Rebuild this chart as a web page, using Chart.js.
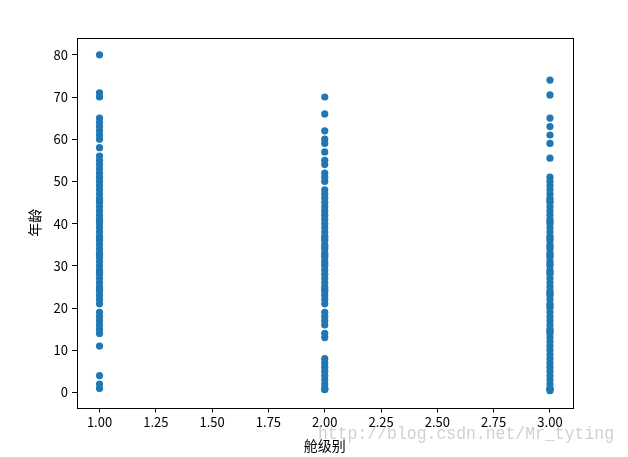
<!DOCTYPE html>
<html>
<head>
<meta charset="utf-8">
<script src="https://cdn.jsdelivr.net/npm/chart.js@4/dist/chart.umd.min.js"></script>
<style>
html,body{margin:0;padding:0;background:#fff;}
#wrap{width:628px;height:457px;position:relative;}
</style>
</head>
<body>
<div id="wrap"><canvas id="c"></canvas></div>
<script>
// ---- data ----
const class1Ages = [0.92, 2, 4, 11, 14, 15, 16, 17, 18, 19, 21, 22, 23, 24, 24.5, 25, 26, 27, 28, 28.5, 29, 30, 31, 32, 32.5, 33, 34, 35, 36, 36.5, 37, 38, 39, 40, 40.5, 41, 42, 43, 44, 45, 45.5, 46, 47, 48, 49, 50, 51, 52, 53, 54, 55, 56, 58, 60, 61, 62, 63, 64, 65, 70, 71, 80];
const class2Ages = [0.67, 0.83, 1, 2, 3, 4, 5, 6, 7, 8, 13, 14, 16, 17, 18, 19, 21, 22, 23, 24, 24.5, 25, 26, 27, 28, 29, 30, 30.5, 31, 32, 32.5, 33, 34, 34.5, 35, 36, 36.5, 37, 38, 39, 40, 41, 42, 43, 44, 45, 46, 47, 48, 50, 51, 52, 54, 55, 57, 59, 60, 62, 66, 70];
const class3Ages = [0.42, 0.75, 0.83, 1, 2, 3, 4, 5, 6, 7, 8, 9, 10, 11, 12, 13, 14, 14.5, 15, 16, 17, 18, 19, 20, 20.5, 21, 22, 23, 23.5, 24, 25, 26, 27, 28, 28.5, 29, 30, 30.5, 31, 32, 32.5, 33, 34, 34.5, 35, 36, 36.5, 37, 38, 39, 40, 40.5, 41, 42, 43, 44, 45, 45.5, 46, 47, 48, 49, 50, 51, 55.5, 59, 61, 63, 65, 70.5, 74];
const classes = [1, 2, 3];
const xTickValues = [1.00, 1.25, 1.50, 1.75, 2.00, 2.25, 2.50, 2.75, 3.00];
const yTickValues = [0, 10, 20, 30, 40, 50, 60, 70, 80];
const xLabel = '舱级别';
const yLabel = '年龄';
const watermark = 'http://blog.csdn.net/Mr_tyting';

const points = [];
[class1Ages, class2Ages, class3Ages].forEach((arr, i) => {
  arr.forEach(a => points.push({x: classes[i], y: a}));
});

const FONT = "'Noto Sans CJK SC', 'Noto Sans', sans-serif";

const frame = {
  id: 'frame',
  afterDraw(chart) {
    const {ctx, chartArea: a} = chart;
    ctx.save();
    ctx.strokeStyle = '#000';
    ctx.lineWidth = 1;
    ctx.strokeRect(Math.round(a.left) + 0.5, Math.round(a.top) + 0.5,
                   Math.round(a.right - a.left), Math.round(a.bottom - a.top));
    ctx.font = "19px 'Liberation Mono', monospace";
    ctx.fillStyle = 'rgba(150,150,150,0.45)';
    ctx.textBaseline = 'alphabetic';
    ctx.textAlign = 'left';
    ctx.fillText(watermark, 318, 439, 296);
    ctx.restore();
  }
};

new Chart(document.getElementById('c'), {
  type: 'scatter',
  data: {
    datasets: [{
      data: points,
      backgroundColor: '#1f77b4',
      borderWidth: 0,
      pointRadius: 3.6,
      pointHoverRadius: 3.6
    }]
  },
  options: {
    responsive: true,
    maintainAspectRatio: false,
    animation: false,
    events: [],
    layout: {padding: {top: 38, right: 55.5, left: 0, bottom: 0}},
    plugins: {legend: {display: false}, tooltip: {enabled: false}},
    scales: {
      x: {
        type: 'linear',
        min: 0.9, max: 3.1,
        afterBuildTicks: s => { s.ticks = xTickValues.map(v => ({value: v})); },
        afterFit: s => { s.height = 49.5; },
        border: {display: false},
        grid: {display: true, drawOnChartArea: false, drawTicks: true, tickLength: 5, tickColor: '#000', tickWidth: 1},
        ticks: {color: '#000', padding: 2, maxRotation: 0, autoSkip: false, font: {family: FONT, size: 13},
                callback: v => Number(v).toFixed(2)},
        title: {display: true, text: xLabel, color: '#000', font: {family: FONT, size: 14}, padding: {top: 0, bottom: 2.6}}
      },
      y: {
        type: 'linear',
        min: -3.56, max: 83.98,
        afterBuildTicks: s => { s.ticks = yTickValues.map(v => ({value: v})); },
        afterFit: s => { s.width = 77; },
        border: {display: false},
        grid: {display: true, drawOnChartArea: false, drawTicks: true, tickLength: 5, tickColor: '#000', tickWidth: 1},
        ticks: {color: '#000', padding: 4, autoSkip: false, font: {family: FONT, size: 13},
                callback: v => String(v)},
        title: {display: true, text: yLabel, color: '#000', font: {family: FONT, size: 14}, padding: {top: 26.6, bottom: 0}}
      }
    }
  },
  plugins: [frame]
});
</script>
</body>
</html>
